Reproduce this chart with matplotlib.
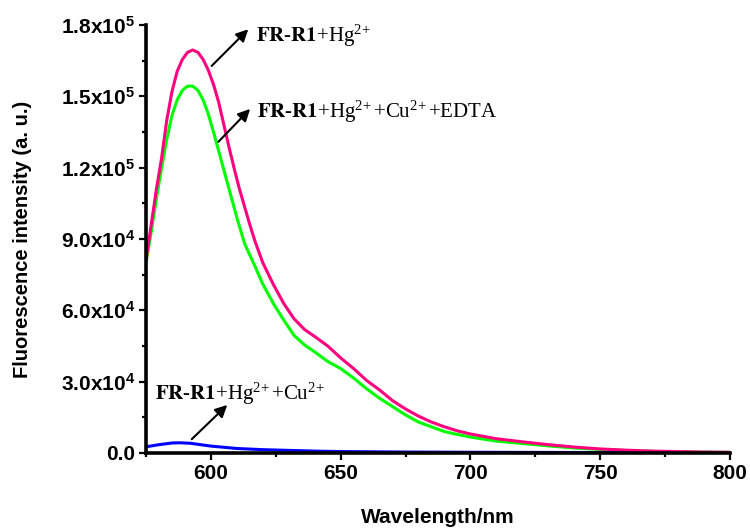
import matplotlib
matplotlib.use("Agg")
import matplotlib.pyplot as plt
from matplotlib.ticker import MultipleLocator, FuncFormatter

plt.rcParams['mathtext.default'] = 'regular'

# emission spectra
wl_hg = [575, 577, 579, 581, 583, 585, 587, 589, 591, 593, 595, 597, 599, 601,
         603, 605, 607, 609, 611, 613, 615, 617, 620, 624, 628, 632, 636, 640,
         645, 650, 655, 660, 665, 670, 675, 680, 685, 690, 695, 700, 710, 720,
         730, 740, 750, 760, 770, 780, 790, 800]
i_hg = [81000, 96000, 111000, 124000, 140000, 152000, 160500, 165500, 168500,
        169500, 168500, 165500, 161000, 155000, 147500, 138000, 128500, 119500,
        111000, 103500, 96000, 89000, 80000, 71000, 63000, 56500, 52000, 49000,
        45000, 40000, 35500, 30500, 26500, 22000, 18500, 15500, 13000, 11000,
        9300, 8000, 6000, 4700, 3500, 2500, 1700, 1200, 800, 600, 400, 300]

wl_edta = [575, 577, 579, 581, 583, 585, 587, 589, 591, 593, 595, 597, 599, 601,
           603, 605, 607, 610, 613, 617, 620, 624, 628, 632, 636, 640, 645, 650,
           655, 660, 665, 670, 675, 680, 685, 690, 695, 700, 710, 720, 730, 740,
           750, 760, 770, 780, 790, 800]
i_edta = [80000, 93000, 107000, 120000, 132000, 142000, 148500, 152500, 154300,
          154300, 152500, 148500, 142500, 135000, 127000, 119000, 111000, 99000,
          88000, 78500, 71000, 63000, 56000, 49500, 45500, 42500, 38500, 35500,
          31500, 27000, 23000, 19500, 16000, 13000, 11000, 9000, 7800, 6700,
          5000, 4000, 3000, 2100, 1500, 1000, 700, 500, 350, 250]

wl_cu = [575, 580, 585, 588, 592, 596, 600, 610, 620, 630, 640, 650, 675, 700, 750, 800]
i_cu = [2600, 3500, 4200, 4300, 4100, 3500, 2900, 1900, 1400, 1100, 800, 600,
        400, 300, 200, 150]

fig = plt.figure(figsize=(7.5, 5.31), dpi=100)
ax = fig.add_axes([0.1947, 0.1469, 0.7786, 0.806])

ax.plot(wl_edta, i_edta, color='#00ff00', lw=2.2)
ax.plot(wl_cu, i_cu, color='#0000ff', lw=2.2)
ax.plot(wl_hg, i_hg, color='#ff007f', lw=2.2)

ax.set_xlim(575, 800)
ax.set_ylim(0, 180000)

for side in ['top', 'right']:
    ax.spines[side].set_visible(False)
for side in ['left', 'bottom']:
    ax.spines[side].set_linewidth(2.6)

ax.xaxis.set_major_locator(MultipleLocator(50))
ax.xaxis.set_minor_locator(MultipleLocator(25))
ax.yaxis.set_major_locator(MultipleLocator(30000))
ax.yaxis.set_minor_locator(MultipleLocator(15000))


def yfmt(v, pos):
    if v == 0:
        return "0.0"
    e = len(str(int(v))) - 1
    return f"{v / 10**e:.1f}x10$^{{{e}}}$"


ax.yaxis.set_major_formatter(FuncFormatter(yfmt))
ax.tick_params(which='major', length=5, width=1.6, direction='out', pad=3)
ax.tick_params(which='minor', length=3, width=1.6, direction='out')

for lab in ax.get_xticklabels() + ax.get_yticklabels():
    lab.set_fontfamily('Liberation Sans')
    lab.set_fontweight('bold')
    lab.set_fontsize(15)

ax.set_xlabel("Wavelength/nm", family='Liberation Sans', weight='bold', fontsize=15, labelpad=18)
ax.set_ylabel("Fluorescence intensity (a. u.)", family='Liberation Sans', weight='bold',
              fontsize=14.5, labelpad=21)

# annotations
arrow = dict(arrowstyle='-|>', color='k', lw=1.5, mutation_scale=18, shrinkA=0, shrinkB=0)
tfont = dict(family='Liberation Serif', fontsize=15, math_fontfamily='stix')
sup = r"$^{2\!+}$"

ax.annotate("", xy=(614.4, 178200), xytext=(600.3, 162800), arrowprops=arrow)
ax.text(617.4, 173000, r"$\mathbf{FR}$-$\mathbf{R1}$+Hg" + sup, va='baseline', **tfont)

ax.annotate("", xy=(615.1, 144700), xytext=(602.9, 130900), arrowprops=arrow)
ax.text(617.7, 140900, r"$\mathbf{FR}$-$\mathbf{R1}$+Hg" + sup + "+Cu" + sup + "+EDTA",
        va='baseline', **tfont)

ax.annotate("", xy=(606.3, 20200), xytext=(592.6, 5800), arrowprops=arrow)
ax.text(578.5, 22300, r"$\mathbf{FR}$-$\mathbf{R1}$+Hg" + sup + "+Cu" + sup,
        va='baseline', **tfont)

fig.savefig("out.png", dpi=100)
